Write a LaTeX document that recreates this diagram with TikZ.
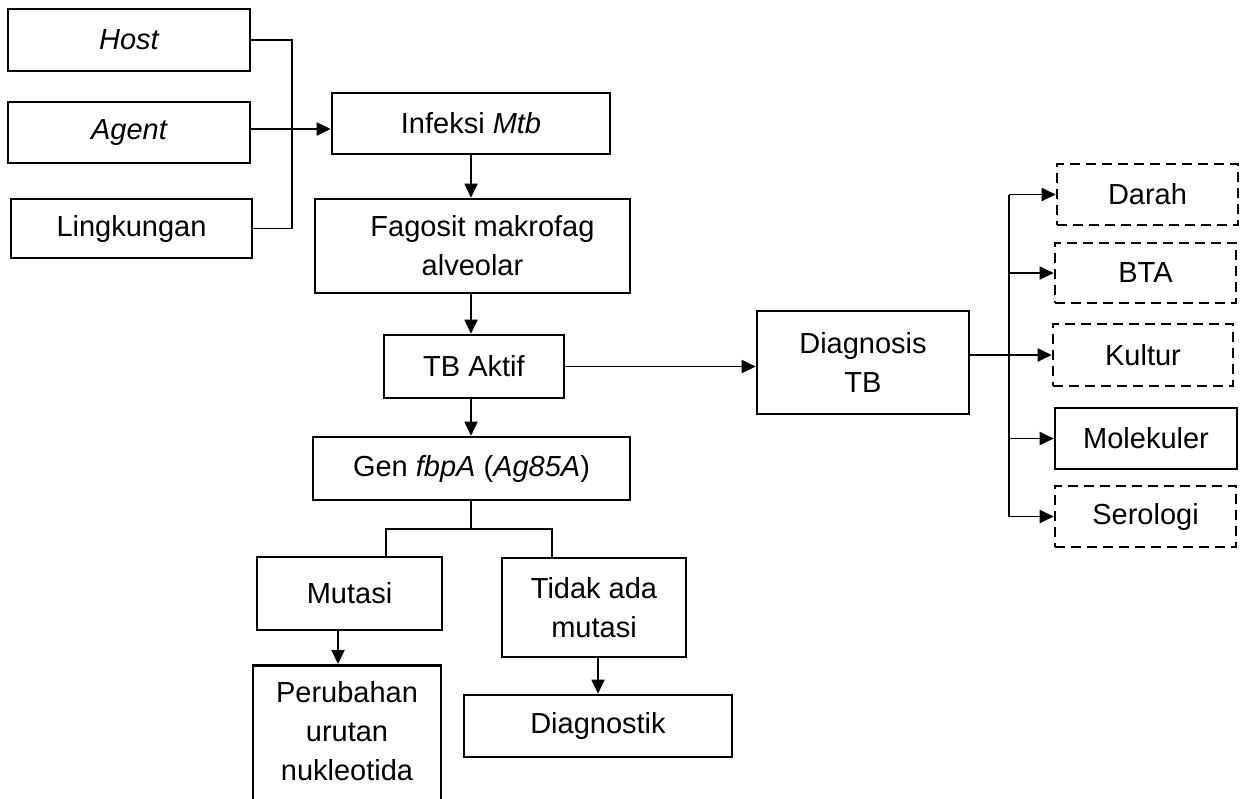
\documentclass[tikz,border=0pt]{standalone}
\usepackage{fontspec}
\setmainfont{Liberation Sans}
\usetikzlibrary{arrows.meta}
\tikzset{
  box/.style={draw, line width=2.6pt, inner sep=0pt, align=center, font=\fontsize{29}{39}\selectfont},
  dbox/.style={box, dash pattern=on 10pt off 6pt},
  plaintxt/.style={inner sep=0pt, align=center, font=\fontsize{29}{39}\selectfont},
  conn/.style={line width=1.8pt},
  arr/.style={conn, -{Triangle[length=14pt,width=13pt]}},
}
\begin{document}
\begin{tikzpicture}[x=1pt,y=-1pt]
\useasboundingbox (0,0) rectangle (1244,798);
\clip (0,0) rectangle (1244,798);
% left inputs
\node[box, minimum width=242pt, minimum height=62pt] (host) at (129,40) {\itshape Host};
\node[box, minimum width=242pt, minimum height=61pt] (agent) at (129,132.5) {\itshape Agent};
\node[box, minimum width=241pt, minimum height=59pt] (ling) at (131.5,228.5) {Lingkungan};
% main chain
\node[box, minimum width=278pt, minimum height=61pt] (infeksi) at (471,123.5) {Infeksi \textit{Mtb}};
\node[box, minimum width=315pt, minimum height=94pt] (fagosit) at (472.5,246) {\hspace*{20pt}Fagosit makrofag\\alveolar};
\node[box, minimum width=180pt, minimum height=63pt] (tbaktif) at (474,366.5) {TB Aktif};
\node[box, minimum width=317pt, minimum height=63pt] (gen) at (471.5,468.5) {Gen \textit{fbpA} (\textit{Ag85A})};
\node[box, minimum width=185pt, minimum height=73pt] (mutasi) at (349.5,593.5) {Mutasi};
\node[box, minimum width=184pt, minimum height=99pt] (tidak) at (594,607.5) {Tidak ada\\mutasi};
\node[box, minimum width=188pt, minimum height=200pt, anchor=north] (perub) at (347,664) {};
\node[plaintxt] (perubtxt) at (347,731) {Perubahan\\urutan\\nukleotida};
\node[box, minimum width=268pt, minimum height=62pt] (diagnostik) at (598,726) {Diagnostik};
% diagnosis branch
\node[box, minimum width=212pt, minimum height=103pt] (diag) at (863,362.5) {Diagnosis\\TB};
\node[dbox, minimum width=181pt, minimum height=61pt] (darah) at (1147.5,194.5) {Darah};
\node[dbox, minimum width=181pt, minimum height=60pt] (bta) at (1145.5,273) {BTA};
\node[dbox, minimum width=180pt, minimum height=62pt] (kultur) at (1143,355) {Kultur};
\node[box, minimum width=182pt, minimum height=61pt] (molek) at (1146,438.5) {Molekuler};
\node[dbox, minimum width=181pt, minimum height=61pt] (serol) at (1145.5,516.5) {Serologi};
% connectors
\coordinate (bk) at (292,0);
\draw[conn] (host.east) -| (bk |- ling.east) -- (ling.east);
\draw[arr] ([yshift=3.5pt]agent.east) -- ([yshift=3.5pt]agent.east -| infeksi.west);
\draw[arr] (infeksi.south) -- (infeksi.south |- fagosit.north);
\draw[arr] (fagosit.south -| infeksi.south) -- (tbaktif.north -| infeksi.south);
\draw[arr] (tbaktif.south -| infeksi.south) -- (gen.north -| infeksi.south);
\draw[arr] (tbaktif.east) -- (tbaktif.east -| diag.west);
\coordinate (gb) at (471,529);
\coordinate (bl) at (386,529);
\coordinate (br) at (552,529);
\draw[conn] (gen.south -| gb) -- (gb);
\draw[conn] (bl |- mutasi.north) -- (bl) -- (br) -- (br |- tidak.north);
\draw[arr] ([xshift=-11.5pt]mutasi.south) -- ([xshift=-11.5pt]mutasi.south |- perub.north);
\draw[arr] (diagnostik.north |- tidak.south) -- (diagnostik.north);
\coordinate (bus) at (1009,0);
\draw[conn] (diag.east |- kultur.west) -- (bus |- kultur.west);
\draw[conn] (bus |- darah.west) -- (bus |- serol.west);
\foreach \n in {darah,bta,kultur,molek,serol} \draw[arr] (bus |- \n.west) -- (\n.west);
\end{tikzpicture}
\end{document}
